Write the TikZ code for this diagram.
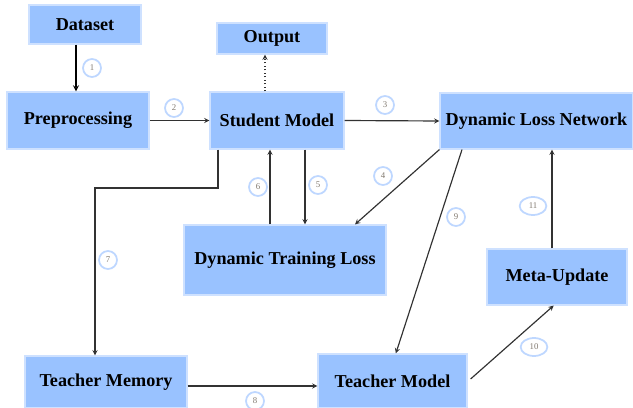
\documentclass[tikz,border=0pt]{standalone}
\usepackage{fontspec}
\setmainfont{Liberation Serif}
\usetikzlibrary{shapes,arrows,positioning,calc}
\definecolor{boxfill}{RGB}{153,194,255}
\definecolor{boxline}{RGB}{206,225,255}
\definecolor{numline}{RGB}{190,215,255}
\definecolor{numtext}{RGB}{130,122,112}
\definecolor{linkgray}{RGB}{50,50,50}

\begin{document}
\begin{tikzpicture}[
  box/.style={draw=boxline, line width=1pt, fill=boxfill, inner sep=0pt, font=\fontsize{15.5}{18}\selectfont\bfseries},
  num/.style={draw=numline, line width=1.5pt, fill=white, ellipse, minimum width=0.54cm, minimum height=0.54cm, inner sep=0pt, text=numtext, font=\fontsize{7.5}{8}\selectfont},
  link/.style={draw=linkgray, line width=1pt, -stealth}
]
\useasboundingbox (0,0) rectangle (18.99,-12.24);

% 定义模块
\node[box, minimum width=3.36cm, minimum height=1.17cm] (dataset) at (2.55,-0.735) {Dataset};
\node[box, minimum width=3.3cm, minimum height=0.93cm] (output) at (8.16,-1.155) {Output};
\node[box, minimum width=4.26cm, minimum height=1.71cm] (prep) at (2.34,-3.615) {Preprocessing};
\node[box, minimum width=4.02cm, minimum height=1.71cm] (student) at (8.31,-3.615) {Student Model};
\node[box, minimum width=5.79cm, minimum height=1.68cm] (dln) at (16.095,-3.63) {Dynamic Loss Network};
\node[box, minimum width=6.06cm, minimum height=2.1cm] (dtl) at (8.55,-7.8) {Dynamic Training Loss};
\node[box, minimum width=4.2cm, minimum height=1.68cm] (meta) at (16.71,-8.31) {Meta-Update};
\node[box, minimum width=4.86cm, minimum height=1.56cm] (tmem) at (3.18,-11.46) {Teacher Memory};
\node[box, minimum width=4.47cm, minimum height=1.62cm] (tmodel) at (11.775,-11.43) {Teacher Model};

% 转折点
\coordinate (bend7) at (2.85,-5.64);

% 连接线
\draw[link, line width=1.3pt, draw=black] ([xshift=-0.27cm]dataset.south) -- ([xshift=-0.27cm]dataset.south |- prep.north);
\draw[link] (prep.east) -- (student.west);
\draw[link] (student.east) -- (dln.west);
\draw[link, dotted] ([xshift=-0.36cm]student.north) -- ([xshift=-0.36cm]student.north |- output.south);
\draw[link] (dln.south west) -- ([xshift=2.1cm]dtl.north);
\draw[link] ([xshift=0.84cm]student.south) -- ([xshift=0.84cm]student.south |- dtl.north);
\draw[link] ([xshift=-0.21cm]student.south |- dtl.north) -- ([xshift=-0.21cm]student.south);
\draw[link] ([xshift=-1.77cm]student.south) |- (bend7) -- (bend7 |- tmem.north);
\draw[link] ([yshift=-0.12cm]tmem.east) -- ([yshift=-0.12cm]tmem.east -| tmodel.west);
\draw[link] ([xshift=-2.235cm]dln.south) -- ([xshift=0.1cm]tmodel.north);
\draw[link] ([xshift=0.09cm,yshift=0.06cm]tmodel.east) -- ([xshift=-0.1cm]meta.south);
\draw[link] ([xshift=-0.15cm]meta.north) -- ([xshift=-0.15cm]meta.north |- dln.south);

% 步骤编号
\node[num] (n1) at (2.76,-2.04) {1};
\node[num] (n2) at (5.22,-3.24) {2};
\node[num] (n3) at (11.55,-3.15) {3};
\node[num] (n4) at (11.49,-5.28) {4};
\node[num] (n5) at (9.54,-5.55) {5};
\node[num] (n6) at (7.74,-5.61) {6};
\node[num] (n7) at (3.24,-7.8) {7};
\node[num] (n8) at (7.65,-12.03) {8};
\node[num] (n9) at (13.68,-6.51) {9};
\node[num, minimum width=0.8cm] (n10) at (16.02,-10.41) {10};
\node[num, minimum width=0.8cm] (n11) at (15.99,-6.18) {11};
\end{tikzpicture}
\end{document}
